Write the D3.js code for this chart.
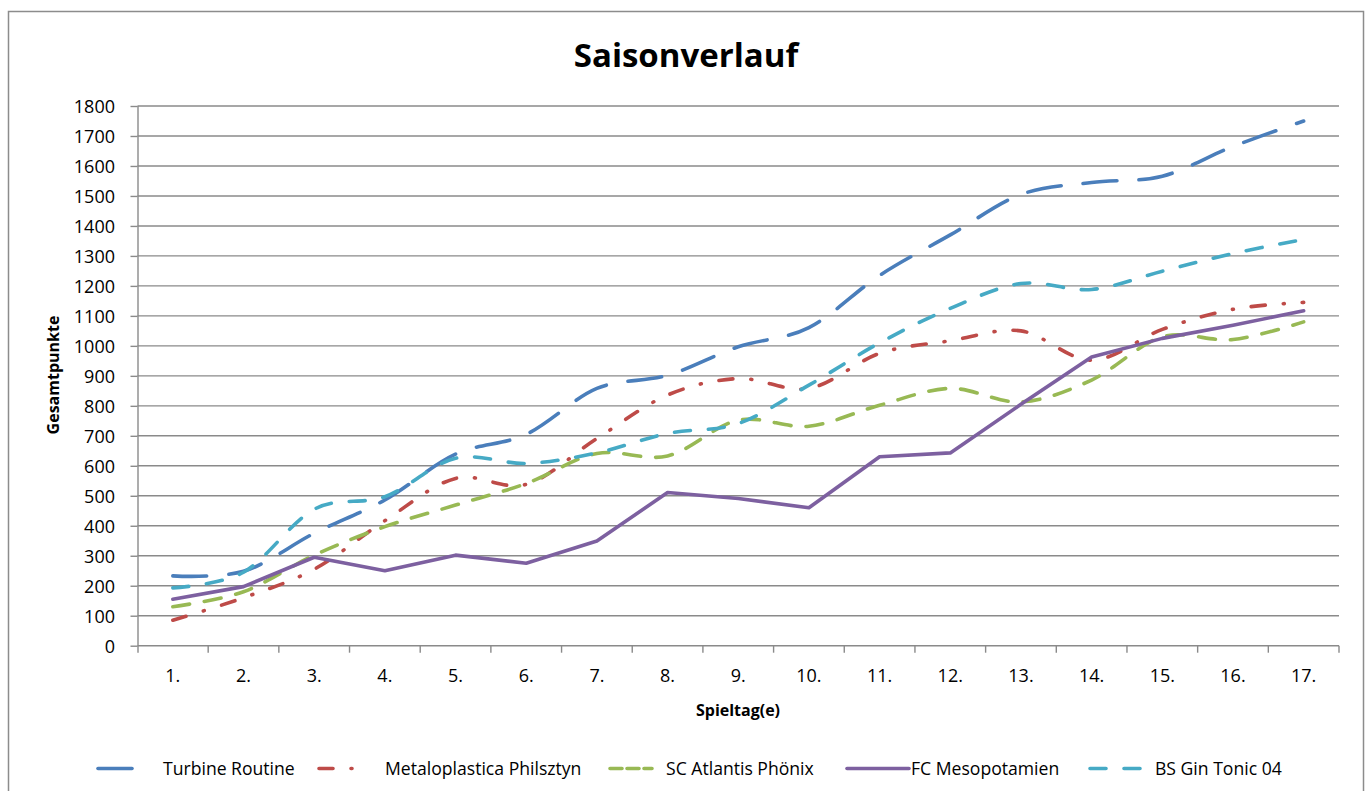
<!DOCTYPE html>
<html>
<head>
<meta charset="utf-8">
<script src="https://cdn.jsdelivr.net/npm/d3@7"></script>
<style>
  html, body { margin: 0; padding: 0; background: #fff; }
  svg { display: block; }
  text { font-family: "Open Sans", "Noto Sans", sans-serif; fill: #000; }
</style>
</head>
<body>
<svg id="chart" width="1367" height="791"></svg>
<script>
// ---- data ----
const categories = ["1.", "2.", "3.", "4.", "5.", "6.", "7.", "8.", "9.", "10.", "11.", "12.", "13.", "14.", "15.", "16.", "17."];
const yTicks = [0, 100, 200, 300, 400, 500, 600, 700, 800, 900, 1000, 1100, 1200, 1300, 1400, 1500, 1600, 1700, 1800];
const seriesNames = ["Turbine Routine", "Metaloplastica Philsztyn", "SC Atlantis Phönix", "FC Mesopotamien", "BS Gin Tonic 04"];
const turbineRoutine = [233, 248, 375, 486, 639, 705, 858, 902, 997, 1061, 1235, 1370, 1505, 1545, 1566, 1665, 1750];
const metaloplastica = [85, 160, 255, 417, 558, 538, 691, 836, 891, 858, 975, 1017, 1050, 952, 1055, 1122, 1145];
const scAtlantis = [130, 180, 302, 397, 469, 541, 641, 633, 752, 732, 802, 858, 813, 886, 1030, 1021, 1080];
const fcMesopotamien = [155, 197, 295, 250, 302, 275, 349, 511, 491, 460, 630, 643, 805, 963, 1025, 1069, 1117];
const bsGinTonic = [193, 245, 455, 497, 625, 608, 643, 708, 741, 869, 1010, 1125, 1208, 1188, 1249, 1308, 1355];
const seriesValues = [turbineRoutine, metaloplastica, scAtlantis, fcMesopotamien, bsGinTonic];

// ---- styles ----
const colors = ["#4A7EBB", "#BE4B48", "#98B954", "#7D60A0", "#46AAC5"];
const dashes = ["34,22", "14,18,1,18", "17,15", null, "16,18"];
const smooth = [true, true, true, false, true];

const W = 1367, H = 791;
const plot = { left: 137.5, right: 1339, top: 106, bottom: 645.7 };
const gridColor = "#8a8a8a";

const svg = d3.select("#chart");
svg.append("rect").attr("width", W).attr("height", H).attr("fill", "#fff");
svg.append("rect").attr("x", 8.5).attr("y", 11.5).attr("width", 1355).attr("height", 800)
  .attr("fill", "none").attr("stroke", "#8c8c8c").attr("stroke-width", 1.5);

const x = d3.scaleBand().domain(categories).range([plot.left, plot.right]).padding(0);
const y = d3.scaleLinear().domain([0, 1800]).range([plot.bottom, plot.top]);
const cx = c => x(c) + x.bandwidth() / 2;

// gridlines
svg.append("g").selectAll("line").data(yTicks.filter(v => v > 0)).join("line")
  .attr("x1", plot.left).attr("x2", plot.right)
  .attr("y1", d => y(d)).attr("y2", d => y(d))
  .attr("stroke", gridColor).attr("stroke-width", 1.4);

// y axis
const yAxis = svg.append("g").attr("transform", `translate(${plot.left},0)`)
  .call(d3.axisLeft(y).tickValues(yTicks).tickFormat(d3.format("d")).tickSize(7).tickPadding(15.5).tickSizeOuter(0));
yAxis.select(".domain").attr("stroke", gridColor).attr("stroke-width", 1.4)
  .attr("d", `M0.5,${plot.top}V${plot.bottom + 7}`);
yAxis.selectAll(".tick line").attr("stroke", gridColor).attr("stroke-width", 1.4);
yAxis.selectAll(".tick text").attr("font-size", 18).attr("fill", "#000")
  .attr("font-family", "Open Sans").attr("dy", "0.36em");

// x axis
const xAxis = svg.append("g").attr("transform", `translate(0,${plot.bottom})`)
  .call(d3.axisBottom(x).tickSize(0).tickPadding(23.5).tickSizeOuter(0));
xAxis.select(".domain").attr("stroke", gridColor).attr("stroke-width", 1.4)
  .attr("d", `M${plot.left},0H${plot.right}`);
xAxis.selectAll(".tick text").attr("font-size", 18).attr("fill", "#000").attr("font-family", "Open Sans");
// tick marks at category boundaries
const boundaries = categories.map(c => x(c)).concat([plot.right]);
xAxis.append("g").selectAll("line").data(boundaries.slice(1)).join("line")
  .attr("x1", d => d).attr("x2", d => d).attr("y1", 0).attr("y2", 7)
  .attr("stroke", gridColor).attr("stroke-width", 1.4);

// series lines
seriesValues.forEach((vals, i) => {
  const gen = d3.line()
    .x((d, j) => cx(categories[j]))
    .y(d => y(d))
    .curve(smooth[i] ? d3.curveCatmullRom.alpha(0) : d3.curveLinear);
  svg.append("path").datum(vals)
    .attr("d", gen)
    .attr("fill", "none")
    .attr("stroke", colors[i])
    .attr("stroke-width", 3.6)
    .attr("stroke-linecap", "round")
    .attr("stroke-linejoin", "round")
    .attr("stroke-dasharray", dashes[i]);
});

// title
svg.append("text").attr("x", 686).attr("y", 67).attr("text-anchor", "middle")
  .attr("font-size", 33).attr("font-weight", "bold").text("Saisonverlauf");

// axis titles
svg.append("text").attr("transform", "translate(59,375) rotate(-90)").attr("text-anchor", "middle")
  .attr("font-size", 16).attr("font-weight", "bold").text("Gesamtpunkte");
svg.append("text").attr("x", 738).attr("y", 716).attr("text-anchor", "middle")
  .attr("font-size", 16).attr("font-weight", "bold").text("Spieltag(e)");

// legend
const legendSym = [[98, 136], [319, 357], [610, 652], [847, 909], [1090, 1144]];
const legendText = [163, 385, 666, 911, 1155];
const ly = 768.5;
const lg = svg.append("g");
seriesNames.forEach((name, i) => {
  lg.append("line").attr("x1", legendSym[i][0]).attr("x2", legendSym[i][1])
    .attr("y1", ly).attr("y2", ly)
    .attr("stroke", colors[i]).attr("stroke-width", 3.6)
    .attr("stroke-linecap", "round")
    .attr("stroke-dasharray", i === 2 ? "12,5" : dashes[i]);
  lg.append("text").attr("x", legendText[i]).attr("y", ly).attr("dy", "0.36em")
    .attr("font-size", 17.6).text(name);
});
</script>
</body>
</html>
